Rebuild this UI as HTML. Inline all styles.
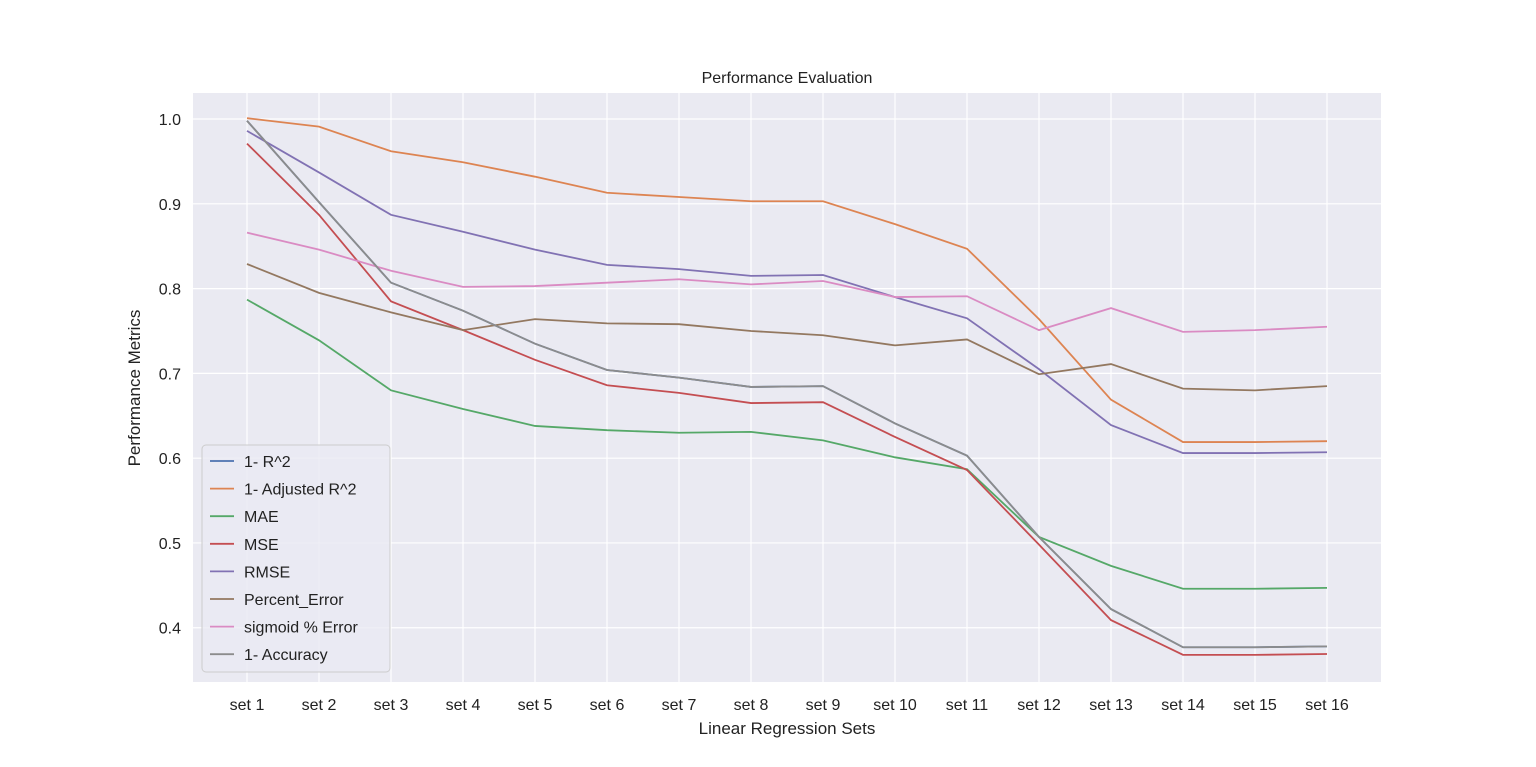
<!DOCTYPE html>
<html><head><meta charset="utf-8"><style>
body{margin:0;background:#fff;}
svg{display:block;font-family:"Liberation Sans","DejaVu Sans",sans-serif;}
</style></head><body>
<svg id="chart" width="1536" height="767">
<rect x="193" y="93" width="1188" height="589" fill="#eaeaf2"/>
<g id="grid"></g><g id="lines"></g><g id="ticks"></g>
<text x="787" y="83" text-anchor="middle" font-size="16" fill="#222">Performance Evaluation</text>
<text x="787" y="734" text-anchor="middle" font-size="17" fill="#222">Linear Regression Sets</text>
<text transform="translate(140,388) rotate(-90)" text-anchor="middle" font-size="17" fill="#222">Performance Metrics</text>
<g id="legend"></g>
</svg>
<script>
const categories=["set 1","set 2","set 3","set 4","set 5","set 6","set 7","set 8","set 9","set 10","set 11","set 12","set 13","set 14","set 15","set 16"];
const yTicks=[0.4,0.5,0.6,0.7,0.8,0.9,1.0];
const seriesNames=["1- R^2","1- Adjusted R^2","MAE","MSE","RMSE","Percent_Error","sigmoid % Error","1- Accuracy"];
const seriesColors=["#4c72b0","#dd8452","#55a868","#c44e52","#8172b3","#937860","#da8bc3","#8c8c8c"];
const r2=[0.998,0.902,0.807,0.774,0.735,0.704,0.695,0.684,0.685,0.641,0.603,0.507,0.422,0.377,0.377,0.378];
const adjR2=[1.001,0.991,0.962,0.949,0.932,0.913,0.908,0.903,0.903,0.876,0.847,0.764,0.669,0.619,0.619,0.620];
const mae=[0.787,0.739,0.680,0.658,0.638,0.633,0.630,0.631,0.621,0.601,0.587,0.507,0.473,0.446,0.446,0.447];
const mse=[0.971,0.887,0.785,0.751,0.716,0.686,0.677,0.665,0.666,0.625,0.586,0.498,0.409,0.368,0.368,0.369];
const rmse=[0.986,0.937,0.887,0.867,0.846,0.828,0.823,0.815,0.816,0.790,0.765,0.705,0.639,0.606,0.606,0.607];
const pctErr=[0.829,0.795,0.772,0.751,0.764,0.759,0.758,0.750,0.745,0.733,0.740,0.699,0.711,0.682,0.680,0.685];
const sigErr=[0.866,0.846,0.821,0.802,0.803,0.807,0.811,0.805,0.809,0.790,0.791,0.751,0.777,0.749,0.751,0.755];
const acc=[0.998,0.902,0.807,0.774,0.735,0.704,0.695,0.684,0.685,0.641,0.603,0.507,0.422,0.377,0.377,0.378];
const allSeries=[r2,adjR2,mae,mse,rmse,pctErr,sigErr,acc];
const NS="http://www.w3.org/2000/svg";
const L=193,R=1381,T=93,B=682,yMin=0.336,yMax=1.0307;
const n=categories.length;
function xs(i){return L+(i+0.75)/(n-1+1.5)*(R-L);}
function ys(v){return B-(v-yMin)/(yMax-yMin)*(B-T);}
function mk(t,a,p){const e=document.createElementNS(NS,t);for(const k in a)e.setAttribute(k,a[k]);p.appendChild(e);return e;}
const grid=document.getElementById('grid'),ticks=document.getElementById('ticks'),lines=document.getElementById('lines'),leg=document.getElementById('legend');
yTicks.forEach(v=>{const y=ys(v);
const g=mk('line',{x1:L,x2:R,y1:y,y2:y,stroke:'#fff','stroke-width':1.2},grid);


const t=mk('text',{x:L-12,y:y+6,'text-anchor':'end','font-size':16,fill:'#222'},ticks);t.textContent=v.toFixed(1);

});
categories.forEach((c,i)=>{const x=xs(i);
const g=mk('line',{x1:x,x2:x,y1:T,y2:B,stroke:'#fff','stroke-width':1.2},grid);


const t=mk('text',{x:x,y:B+28,'text-anchor':'middle','font-size':16,fill:'#222'},ticks);t.textContent=c;

});
allSeries.forEach((s,k)=>{const p=mk('polyline',{points:s.map((v,i)=>xs(i)+','+ys(v)).join(' '),fill:'none',stroke:seriesColors[k],'stroke-width':1.8},lines);

});
const lb=mk('rect',{x:202,y:445,width:188,height:227,rx:4,fill:'#eaeaf2','fill-opacity':0.8,stroke:'#ccc'},leg);


seriesNames.forEach((nm,k)=>{const y=461+k*27.6;
const ln=mk('line',{x1:210,x2:234,y1:y,y2:y,stroke:seriesColors[k],'stroke-width':1.8},leg);


const t=mk('text',{x:244,y:y+6,'font-size':16,fill:'#222'},leg);t.textContent=nm;

});
</script>
</body></html>
